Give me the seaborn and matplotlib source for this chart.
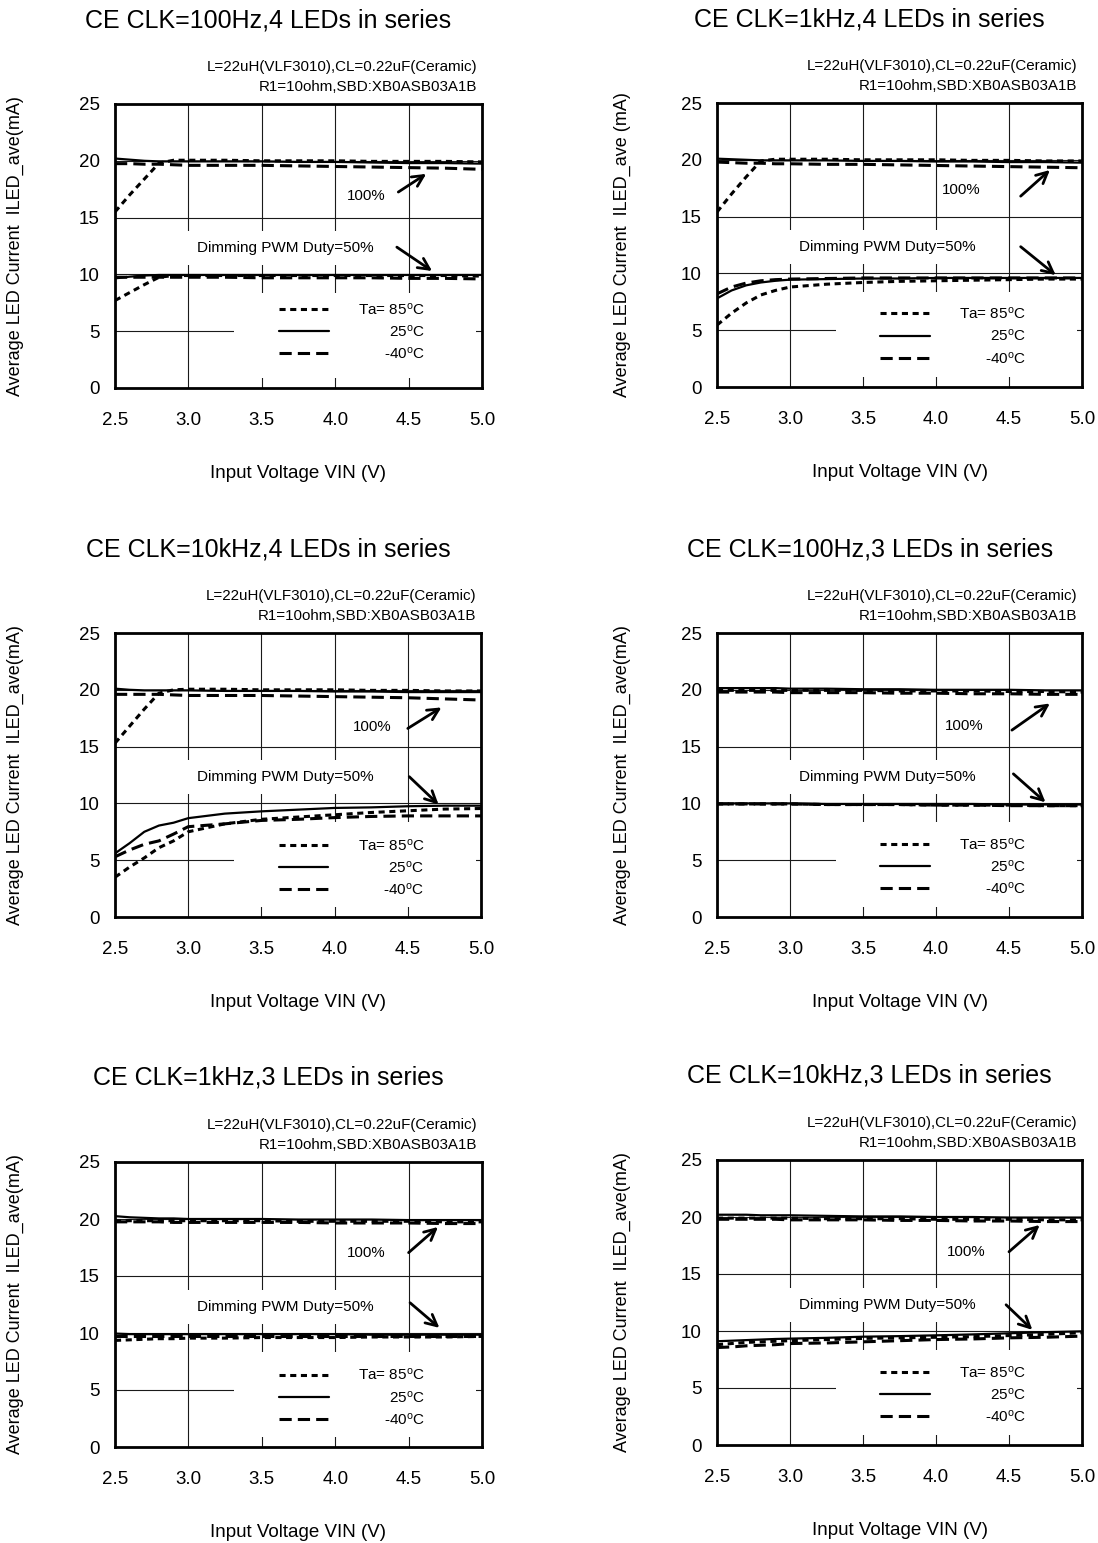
import matplotlib
matplotlib.use("Agg")
import matplotlib.pyplot as plt
from matplotlib.patches import Rectangle
import seaborn as sns

# ---------------- data ----------------
VIN = [2.5, 2.6, 2.7, 2.8, 2.9, 3.0, 3.25, 3.5, 3.75, 4.0, 4.25, 4.5, 4.75, 5.0]
X_TICKS = [2.5, 3.0, 3.5, 4.0, 4.5, 5.0]
Y_TICKS = [0, 5, 10, 15, 20, 25]
TEMP_LABELS = ["Ta= 85$^{\\rm o}$C", "25$^{\\rm o}$C", "-40$^{\\rm o}$C"]
TITLES = ["CE CLK=100Hz,4 LEDs in series", "CE CLK=1kHz,4 LEDs in series",
          "CE CLK=10kHz,4 LEDs in series", "CE CLK=100Hz,3 LEDs in series",
          "CE CLK=1kHz,3 LEDs in series", "CE CLK=10kHz,3 LEDs in series"]
YLABELS = ["Average LED Current  ILED_ave(mA)", "Average LED Current  ILED_ave (mA)",
           "Average LED Current  ILED_ave(mA)", "Average LED Current  ILED_ave(mA)",
           "Average LED Current  ILED_ave(mA)", "Average LED Current  ILED_ave(mA)"]
COND1 = "L=22uH(VLF3010),CL=0.22uF(Ceramic)"
COND2 = "R1=10ohm,SBD:XB0ASB03A1B"
XLABEL = "Input Voltage VIN (V)"
TXT100 = "100%"
TXT50 = "Dimming PWM Duty=50%"

# Panel 1: 100Hz, 4 LEDs
p1_100_85 = [15.5, 17.0, 18.4, 19.8, 20.05, 20.05, 20.05, 20.0, 20.0, 20.0, 19.95, 19.95, 19.95, 19.9]
p1_100_25 = [20.2, 20.1, 20.0, 19.95, 19.95, 19.95, 19.95, 19.95, 19.9, 19.9, 19.85, 19.8, 19.8, 19.75]
p1_100_m40 = [19.75, 19.75, 19.7, 19.7, 19.65, 19.6, 19.6, 19.6, 19.55, 19.5, 19.45, 19.4, 19.35, 19.25]
p1_50_85 = [7.7, 8.4, 9.1, 9.75, 9.9, 9.9, 9.9, 9.9, 9.9, 9.9, 9.9, 9.9, 9.9, 9.85]
p1_50_25 = [9.65, 9.8, 9.9, 9.95, 9.95, 9.95, 9.95, 9.95, 9.95, 9.95, 9.95, 9.95, 9.95, 9.95]
p1_50_m40 = [9.75, 9.75, 9.75, 9.75, 9.75, 9.75, 9.75, 9.7, 9.7, 9.7, 9.7, 9.65, 9.65, 9.6]

# Panel 2: 1kHz, 4 LEDs
p2_100_85 = [15.4, 17.0, 18.5, 19.9, 20.05, 20.05, 20.05, 20.0, 20.0, 20.0, 19.95, 19.95, 19.9, 19.9]
p2_100_25 = [20.1, 20.05, 20.0, 19.95, 19.95, 19.95, 19.95, 19.9, 19.9, 19.85, 19.85, 19.8, 19.8, 19.75]
p2_100_m40 = [19.8, 19.75, 19.7, 19.7, 19.65, 19.65, 19.6, 19.6, 19.55, 19.5, 19.45, 19.4, 19.35, 19.3]
p2_50_85 = [5.45, 6.5, 7.4, 8.1, 8.5, 8.8, 9.05, 9.2, 9.3, 9.35, 9.4, 9.45, 9.5, 9.5]
p2_50_25 = [7.8, 8.5, 8.95, 9.2, 9.35, 9.45, 9.5, 9.55, 9.55, 9.6, 9.6, 9.6, 9.6, 9.6]
p2_50_m40 = [8.2, 8.8, 9.15, 9.35, 9.45, 9.5, 9.55, 9.6, 9.6, 9.6, 9.6, 9.6, 9.6, 9.6]

# Panel 3: 10kHz, 4 LEDs
p3_100_85 = [15.3, 16.8, 18.3, 19.7, 20.0, 20.05, 20.05, 20.0, 20.0, 20.0, 19.95, 19.95, 19.9, 19.9]
p3_100_25 = [20.1, 20.0, 19.95, 19.95, 19.95, 19.95, 19.9, 19.9, 19.9, 19.85, 19.85, 19.8, 19.8, 19.8]
p3_100_m40 = [19.6, 19.6, 19.6, 19.6, 19.55, 19.5, 19.5, 19.5, 19.45, 19.4, 19.35, 19.3, 19.2, 19.1]
p3_50_85 = [3.5, 4.4, 5.2, 6.1, 6.7, 7.5, 8.2, 8.6, 8.8, 9.0, 9.2, 9.35, 9.5, 9.55]
p3_50_25 = [5.6, 6.5, 7.5, 8.05, 8.3, 8.7, 9.1, 9.3, 9.45, 9.6, 9.65, 9.75, 9.8, 9.8]
p3_50_m40 = [5.3, 5.9, 6.4, 6.7, 7.3, 7.95, 8.2, 8.5, 8.6, 8.75, 8.85, 8.9, 8.9, 8.9]

# Panel 4: 100Hz, 3 LEDs
p4_100_85 = [19.95, 19.95, 19.95, 19.95, 19.95, 19.95, 19.95, 19.95, 19.9, 19.9, 19.9, 19.85, 19.85, 19.8]
p4_100_25 = [20.15, 20.15, 20.15, 20.15, 20.15, 20.1, 20.1, 20.05, 20.05, 20.0, 20.0, 20.0, 19.95, 19.95]
p4_100_m40 = [19.8, 19.8, 19.8, 19.8, 19.8, 19.75, 19.75, 19.75, 19.7, 19.7, 19.65, 19.65, 19.6, 19.6]
p4_50_85 = [9.95, 9.95, 9.95, 9.95, 9.95, 9.95, 9.9, 9.9, 9.9, 9.85, 9.85, 9.85, 9.8, 9.8]
p4_50_25 = [10.0, 10.0, 10.0, 10.0, 10.0, 10.0, 9.95, 9.95, 9.95, 9.95, 9.95, 9.9, 9.9, 9.9]
p4_50_m40 = [9.95, 9.95, 9.95, 9.95, 9.95, 9.95, 9.9, 9.9, 9.9, 9.85, 9.85, 9.8, 9.8, 9.8]

# Panel 5: 1kHz, 3 LEDs
p5_100_85 = [19.8, 19.85, 19.85, 19.85, 19.85, 19.85, 19.85, 19.85, 19.8, 19.8, 19.8, 19.8, 19.75, 19.75]
p5_100_25 = [20.25, 20.15, 20.1, 20.05, 20.05, 20.0, 20.0, 20.0, 19.95, 19.95, 19.95, 19.9, 19.9, 19.9]
p5_100_m40 = [19.75, 19.75, 19.75, 19.75, 19.7, 19.7, 19.7, 19.7, 19.7, 19.65, 19.65, 19.65, 19.6, 19.6]
p5_50_85 = [9.35, 9.4, 9.45, 9.5, 9.5, 9.55, 9.55, 9.6, 9.6, 9.6, 9.65, 9.65, 9.65, 9.7]
p5_50_25 = [9.95, 9.9, 9.9, 9.9, 9.9, 9.9, 9.9, 9.9, 9.9, 9.9, 9.85, 9.85, 9.85, 9.85]
p5_50_m40 = [9.75, 9.75, 9.75, 9.75, 9.75, 9.75, 9.75, 9.75, 9.75, 9.75, 9.75, 9.75, 9.75, 9.75]

# Panel 6: 10kHz, 3 LEDs
p6_100_85 = [19.9, 19.9, 19.9, 19.9, 19.9, 19.9, 19.85, 19.85, 19.85, 19.8, 19.8, 19.8, 19.75, 19.75]
p6_100_25 = [20.2, 20.2, 20.2, 20.15, 20.15, 20.15, 20.1, 20.05, 20.05, 20.0, 20.0, 19.95, 19.95, 19.95]
p6_100_m40 = [19.8, 19.8, 19.8, 19.8, 19.8, 19.75, 19.75, 19.75, 19.7, 19.7, 19.65, 19.65, 19.6, 19.6]
p6_50_85 = [8.8, 8.9, 9.0, 9.05, 9.1, 9.15, 9.25, 9.35, 9.4, 9.45, 9.5, 9.6, 9.7, 9.85]
p6_50_25 = [9.1, 9.15, 9.2, 9.25, 9.3, 9.33, 9.4, 9.5, 9.55, 9.62, 9.7, 9.8, 9.9, 9.97]
p6_50_m40 = [8.55, 8.6, 8.7, 8.75, 8.8, 8.9, 8.95, 9.05, 9.15, 9.25, 9.3, 9.4, 9.45, 9.55]

SERIES = [
    [(p1_100_85, p1_100_25, p1_100_m40), (p1_50_85, p1_50_25, p1_50_m40)],
    [(p2_100_85, p2_100_25, p2_100_m40), (p2_50_85, p2_50_25, p2_50_m40)],
    [(p3_100_85, p3_100_25, p3_100_m40), (p3_50_85, p3_50_25, p3_50_m40)],
    [(p4_100_85, p4_100_25, p4_100_m40), (p4_50_85, p4_50_25, p4_50_m40)],
    [(p5_100_85, p5_100_25, p5_100_m40), (p5_50_85, p5_50_25, p5_50_m40)],
    [(p6_100_85, p6_100_25, p6_100_m40), (p6_50_85, p6_50_25, p6_50_m40)],
]

# ---------------- layout / style ----------------
W, H = 1098, 1543
# axes boxes in pixels: left, top, right, bottom
BOXES = [(115, 104, 482, 388), (717, 103, 1082, 387),
         (115, 633, 481, 917), (717, 633, 1082, 917),
         (115, 1162, 482, 1447), (717, 1160, 1082, 1445)]
# annotation layout (data coords): text100, arrow100 tail/head, arrow50 tail/head
ANN = [
    ((4.21, 16.9), (4.43, 17.25), (4.62, 18.85), (4.42, 12.4), (4.66, 10.3)),
    ((4.17, 17.35), (4.58, 16.8), (4.78, 19.1), (4.58, 12.35), (4.82, 9.85)),
    ((4.26, 16.7), (4.50, 16.6), (4.73, 18.45), (4.51, 12.35), (4.71, 9.9)),
    ((4.19, 16.8), (4.52, 16.45), (4.78, 18.8), (4.53, 12.6), (4.75, 10.1)),
    ((4.21, 17.05), (4.50, 17.05), (4.70, 19.3), (4.51, 12.65), (4.71, 10.45)),
    ((4.21, 16.95), (4.50, 16.95), (4.71, 19.3), (4.48, 12.3), (4.66, 10.1)),
]
LEG_TOP = [0.30, 0.28, 0.275, 0.278, 0.275, 0.278]
STYLES = [dict(linestyle=(0, (2, 1.5)), linewidth=2.2),
          dict(linestyle="-", linewidth=1.6),
          dict(linestyle=(0, (4, 2)), linewidth=2.2)]

sns.set_style("white")
plt.rcParams["font.family"] = ["Liberation Sans", "DejaVu Sans"]
plt.rcParams["mathtext.fontset"] = "custom"
plt.rcParams["mathtext.rm"] = "Liberation Sans"
plt.rcParams["mathtext.it"] = "Liberation Sans:italic"
plt.rcParams["mathtext.bf"] = "Liberation Sans:bold"
plt.rcParams["text.color"] = "black"
plt.rcParams["axes.labelcolor"] = "black"

fig = plt.figure(figsize=(W / 100, H / 100), dpi=100)
pairs = []

for i in range(6):
    l, t, r, b = BOXES[i]
    ax = fig.add_axes([l / W, 1 - b / H, (r - l) / W, (b - t) / H])
    right_col = (i % 2 == 1)

    handles = []
    for duty in range(2):
        for k in range(3):
            sns.lineplot(x=VIN, y=SERIES[i][duty][k], ax=ax, color="black",
                         estimator=None, sort=False, zorder=3, **STYLES[k])
            if duty == 0:
                handles.append(ax.lines[-1])

    ax.set_xlim(2.5, 5.0)
    ax.set_ylim(0, 25)
    ax.set_xticks(X_TICKS)
    ax.set_xticklabels([f"{v:.1f}" for v in X_TICKS])
    ax.set_yticks(Y_TICKS)
    ax.grid(True, color="#1a1a1a", linewidth=0.8)
    ax.set_axisbelow(True)
    ax.tick_params(axis="both", length=0, labelsize=13.5, colors="black")
    ax.tick_params(axis="y", pad=11)
    ax.tick_params(axis="x", pad=17)
    for s in ax.spines.values():
        s.set_color("black")
        s.set_linewidth(2.0)
        s.set_visible(True)

    # white legend area that hides the grid
    ax.add_patch(Rectangle((0.325, 0.035), 0.66, 0.30, transform=ax.transAxes,
                           facecolor="white", edgecolor="none", zorder=1.8))

    # texts
    ax.text(0.418, 1.295, TITLES[i], transform=ax.transAxes, ha="center",
            va="center", fontsize=18)
    ax.text(0.988, 1.13, COND1, transform=ax.transAxes, ha="right",
            va="center", fontsize=10.9)
    ax.text(0.988, 1.06, COND2, transform=ax.transAxes, ha="right",
            va="center", fontsize=10.9)
    ax.set_xlabel(XLABEL, fontsize=13.5, va="center")
    ax.xaxis.set_label_coords(0.5, -0.3)
    ax.set_ylabel(YLABELS[i], fontsize=13, va="center")
    ax.yaxis.set_label_coords(-0.26 if right_col else -0.272, 0.5)

    t100, a1, a2, b1, b2 = ANN[i]
    ax.text(t100[0], t100[1], TXT100, ha="center", va="center", fontsize=10.8, zorder=4)
    ax.text(3.06, 12.3, TXT50, ha="left", va="center", fontsize=11, zorder=4,
            bbox=dict(facecolor="white", edgecolor="none", pad=7))
    for tail, head in ((a1, a2), (b1, b2)):
        ax.annotate("", xy=head, xytext=tail,
                    arrowprops=dict(arrowstyle="->", color="black", lw=2.0,
                                    mutation_scale=20, shrinkA=0, shrinkB=0),
                    zorder=4)

    leg = ax.legend(handles=handles, labels=["", "", ""], loc="upper left",
                    bbox_to_anchor=(0.447, LEG_TOP[i]), frameon=False, fontsize=10.5,
                    handlelength=3.4, handletextpad=0.0, labelspacing=0.56,
                    borderpad=0, borderaxespad=0)
    leg.set_zorder(5)
    pairs.append((ax, leg))

# legend labels, right aligned next to the legend line samples
fig.canvas.draw()
renderer = fig.canvas.get_renderer()
for ax, leg in pairs:
    inv = ax.transAxes.inverted()
    for h, lab in zip(leg.legend_handles, TEMP_LABELS):
        bb = h.get_window_extent(renderer)
        yc = 0.5 * (bb.y0 + bb.y1)
        y_ax = inv.transform((0, yc - 5.5))[1]
        ax.text(0.845, y_ax, lab, transform=ax.transAxes, ha="right",
                va="baseline", fontsize=11, zorder=6)

fig.savefig("out.png", dpi=100)
